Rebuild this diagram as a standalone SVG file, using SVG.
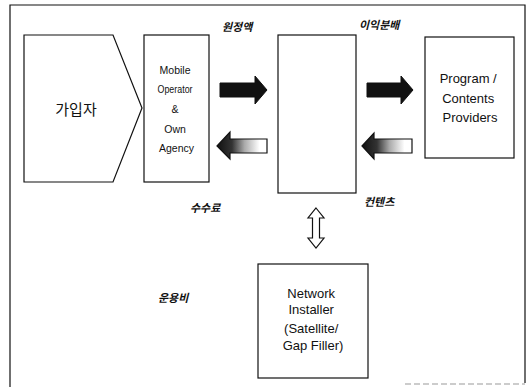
<svg xmlns="http://www.w3.org/2000/svg" width="528" height="387" viewBox="0 0 528 387">
  <style>
    .box { fill: #fff; stroke: #111; stroke-width: 1.2; }
    .en { font-family: "Liberation Sans", "DejaVu Sans", sans-serif; fill: #111; text-anchor: middle; }
    .ko { font-family: "Noto Sans CJK KR", sans-serif; fill: #111; }
    .lbl { font-family: "Noto Sans CJK KR", sans-serif; font-weight: bold; font-size: 11px; fill: #111; }
    .solid { fill: #111; stroke: #111; stroke-width: 1; }
    .hollow { fill: url(#fade); stroke: #111; stroke-width: 1.2; }
    .dbl { fill: #fff; stroke: #111; stroke-width: 1.2; }
  </style>
  <defs>
    <linearGradient id="fade" x1="0" y1="0" x2="1" y2="0">
      <stop offset="0" stop-color="#111"/>
      <stop offset="0.3" stop-color="#333"/>
      <stop offset="0.55" stop-color="#aaa"/>
      <stop offset="0.85" stop-color="#fff"/>
      <stop offset="1" stop-color="#fff"/>
    </linearGradient>
  </defs>

  <rect width="528" height="387" fill="#fff"/>
  <!-- outer frame, open at the bottom -->
  <path d="M10,387 V5 H525 V383" fill="none" stroke="#111" stroke-width="1.2"/>
  <line x1="405" y1="384" x2="525" y2="384" stroke="#999" stroke-width="1" stroke-dasharray="6 3"/>

  <g id="subscriber">
    <polygon class="box" points="24,35 113,35 142,108 113,182 24,182"/>
    <text class="ko" x="76" y="115" font-size="15" text-anchor="middle">가입자</text>
  </g>

  <g id="mobile-operator">
    <rect class="box" x="144" y="35" width="65" height="147"/>
    <text class="en" font-size="10.5">
      <tspan x="176.5" y="74">Mobile</tspan>
      <tspan x="176.5" y="93" textLength="35" lengthAdjust="spacingAndGlyphs">Operator</tspan>
      <tspan x="176.5" y="113">&amp;</tspan>
      <tspan x="176.5" y="133">Own</tspan>
      <tspan x="176.5" y="152">Agency</tspan>
    </text>
  </g>

  <g id="platform">
    <rect class="box" x="278" y="35" width="78" height="158"/>
  </g>

  <g id="content-providers">
    <rect class="box" x="425" y="37" width="89" height="121"/>
    <text class="en" font-size="13">
      <tspan x="470" y="83">Program /</tspan>
      <tspan x="470" y="103">Contents</tspan>
      <tspan x="470" y="122">Providers</tspan>
    </text>
  </g>

  <g id="network-installer">
    <rect class="box" x="258" y="264" width="110" height="114"/>
    <text class="en" font-size="13">
      <tspan x="313" y="298">Network</tspan>
      <tspan x="313" y="314">Installer</tspan>
      <tspan x="313" y="333">(Satellite/</tspan>
      <tspan x="313" y="350">Gap Filler)</tspan>
    </text>
  </g>

  <g id="connectors">
    <!-- solid flows to the right -->
    <polygon class="solid" points="220,83 255,83 255,76 267,90 255,104 255,97 220,97"/>
    <polygon class="solid" points="367,83 401,83 401,76 413,90 401,104 401,97 367,97"/>
    <!-- shaded return flows to the left -->
    <polygon class="hollow" points="217,146 230,132 230,139 267,139 267,153 230,153 230,159"/>
    <polygon class="hollow" points="362,146 374,133 374,139 412,139 412,153 374,153 374,159"/>
    <!-- two-way link to the network installer -->
    <polygon class="dbl" points="316,208 324,218 319.5,218 319.5,238 324,238 316,248 308,238 312.5,238 312.5,218 308,218"/>
  </g>

  <!-- slanted flow labels -->
  <g id="labels">
    <text class="lbl" transform="translate(222,31) skewX(-14)">원정액</text>
    <text class="lbl" transform="translate(359,29) skewX(-14)">이익분배</text>
    <text class="lbl" transform="translate(190,212) skewX(-14)">수수료</text>
    <text class="lbl" transform="translate(364,206) skewX(-14)">컨텐츠</text>
    <text class="lbl" transform="translate(158,302) skewX(-14)">운용비</text>
  </g>
</svg>
